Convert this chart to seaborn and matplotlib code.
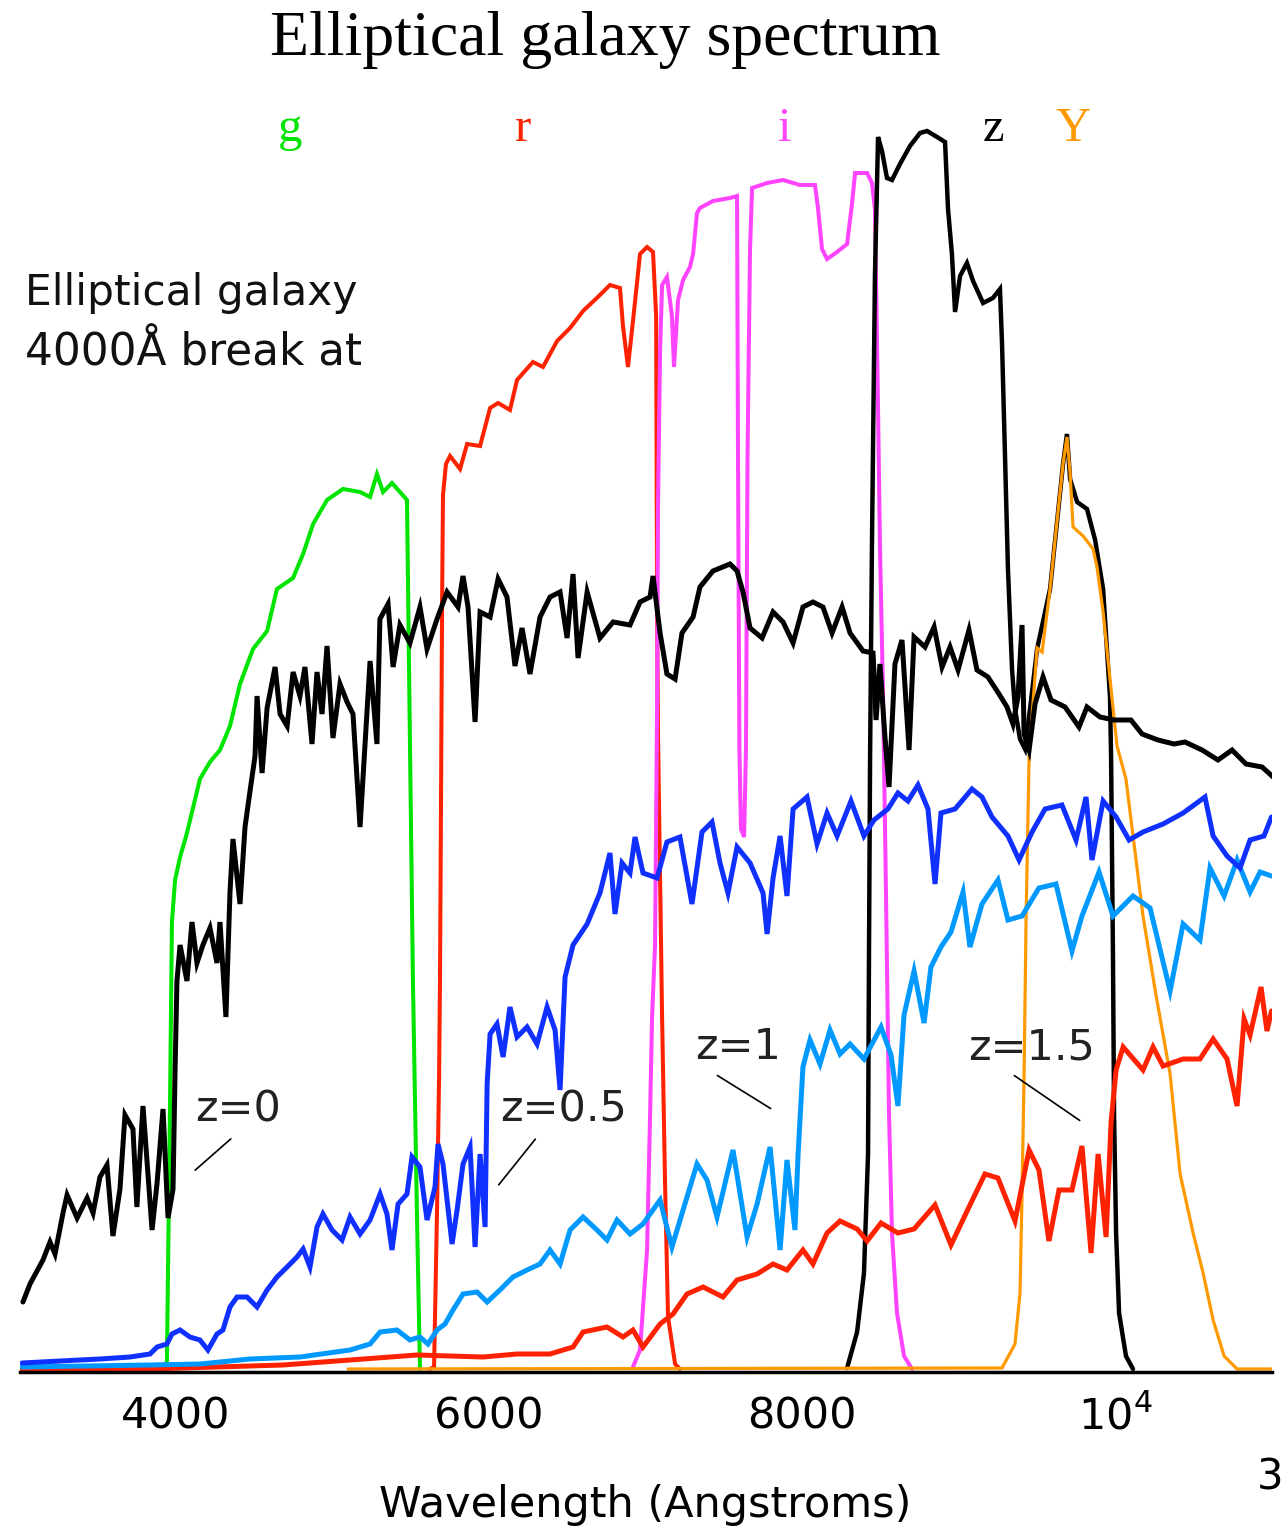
import matplotlib
matplotlib.use("Agg")
import matplotlib.pyplot as plt
import seaborn as sns

# ---------------- data (wavelength in Angstrom, relative flux / throughput) ----------------
spec_z0 = [(3022,6.7),(3067,8.5),(3150,10.9),(3195,12.7),(3227,11.5),(3278,15.6),(3304,17.4),(3368,15.1),
           (3432,17.1),(3470,15.6),(3514,19.2),(3559,20.4),(3597,13.3),(3642,18.0),(3674,25.4),(3725,24.0),
           (3750,16.2),(3789,26.3),(3847,13.9),(3879,18.6),(3917,26.0),(3949,15.1),(3981,18.0),(3994,29.9),
           (4006,38.8),(4026,42.4),(4070,38.8),(4102,44.7),(4134,40.6),(4172,42.4),(4217,44.1),(4262,40.6),
           (4281,44.7),(4319,35.2),(4345,47.7),(4364,53.0),(4409,46.5),(4441,54.2),(4473,57.8),(4505,61.3),
           (4518,67.3),(4550,59.6),(4582,66.1),(4633,70.2),(4665,65.5),(4710,64.3),(4748,69.7),(4792,67.3),
           (4824,70.2),(4869,62.5),(4901,69.7),(4933,65.5),(4965,72.3),(5003,63.1),(5048,68.5),(5093,66.7),
           (5131,65.5),(5176,54.2),(5208,62.5),(5240,70.8),(5284,62.5),(5303,75.0),(5355,76.5),(5387,70.2),
           (5431,74.4),(5495,72.6),(5559,76.2),(5604,72.0),(5668,75.0),(5732,77.7),(5802,76.2),(5834,79.3),
           (5866,76.2),(5911,64.7),(5943,75.7),(6007,75.2),(6058,79.0),(6115,77.2),(6166,70.3),(6211,74.1),
           (6262,69.5),(6326,75.2),(6390,77.2),(6454,77.7),(6499,73.1),(6537,79.5),(6569,71.1),(6627,77.7),
           (6709,73.1),(6793,74.7),(6901,74.4),(6965,76.7),(7029,77.2),(7048,79.3),(7093,73.6),(7137,69.5),
           (7189,69.0),(7233,73.6),(7304,75.2),(7348,78.2),(7431,79.8),(7540,80.5),(7585,79.8),(7623,77.7),
           (7668,74.1),(7745,73.1),(7815,75.7),(7879,74.7),(7943,72.6),(8006,76.2),(8070,76.7),(8134,76.2),
           (8192,73.6),(8256,76.2),(8307,73.6),(8390,71.8),(8454,71.6),(8473,64.9),(8498,70.5),(8530,63.2),
           (8556,58.2),(8594,70.5),(8639,72.9),(8684,61.9),(8716,73.2),(8786,72.2),(8844,74.2),(8895,70.2),
           (8946,72.2),(8997,69.9),(9067,73.9),(9118,69.9),(9188,69.2),(9259,67.5),(9310,66.2),(9348,64.5),
           (9380,67.2),(9406,74.4),(9419,63.5),(9451,61.9),(9489,66.5),(9540,69.2),(9591,66.9),(9681,66.2),
           (9770,64.2),(9821,66.2),(9904,65.2),(9994,64.9),(10102,64.9),(10173,63.5),(10275,62.9),(10377,62.5),
           (10447,62.7),(10556,61.9),(10658,60.9),(10748,61.9),(10837,60.5),(10940,60.2),(11010,59.2)]

spec_z05 = [(3016,0.6),(3259,0.8),(3514,1.0),(3706,1.2),(3834,1.5),(3879,2.2),(3942,2.5),(3974,3.5),
            (4026,3.9),(4089,3.2),(4153,2.9),(4204,1.9),(4262,3.5),(4300,3.9),(4345,6.2),(4390,7.2),
            (4454,7.2),(4518,6.2),(4582,7.9),(4645,9.2),(4710,10.2),(4773,11.2),(4812,12.0),(4856,10.2),
            (4901,14.2),(4939,15.5),(4997,13.9),(5061,12.9),(5112,15.2),(5176,13.5),(5240,14.9),(5304,17.5),
            (5348,15.5),(5380,11.9),(5419,16.5),(5476,17.5),(5508,21.2),(5559,20.2),(5604,14.9),(5655,18.2),
            (5674,22.5),(5706,20.5),(5764,12.5),(5796,15.9),(5834,20.5),(5879,22.2),(5911,12.2),(5943,21.5),
            (5975,14.2),(5988,28.5),(6007,33.5),(6051,34.5),(6090,31.2),(6134,36.2),(6179,33.2),(6243,34.2),
            (6307,32.5),(6371,36.2),(6422,33.9),(6454,27.9),(6486,39.2),(6537,42.4),(6627,44.5),(6709,47.6),
            (6773,51.6),(6805,45.5),(6850,50.6),(6901,49.6),(6933,53.2),(6984,49.6),(7074,49.1),(7137,52.7),
            (7220,53.2),(7297,46.5),(7361,53.7),(7425,54.7),(7476,50.6),(7527,47.6),(7585,52.2),(7668,50.6),
            (7751,47.6),(7777,43.5),(7815,49.1),(7860,53.3),(7904,47.3),(7943,56.0),(8032,57.2),(8096,52.5),
            (8160,55.6),(8224,53.3),(8313,56.8),(8396,53.3),(8460,54.9),(8549,56.0),(8613,57.6),(8677,56.8),
            (8741,58.4),(8805,56.0),(8850,48.5),(8888,55.6),(8978,56.0),(9086,58.0),(9150,57.2),(9214,55.2),
            (9316,53.3),(9387,50.9),(9470,53.7),(9553,56.0),(9661,56.4),(9751,52.9),(9815,57.2),(9853,50.9),
            (9924,56.8),(10007,55.2),(10090,52.9),(10179,53.7),(10307,54.5),(10435,55.6),(10575,57.2),
            (10627,53.3),(10716,51.3),(10799,50.1),(10863,52.9),(10952,53.3),(11000,55.2)]

spec_z1 = [(3016,0.2),(3834,0.4),(4153,0.5),(4473,1.0),(4792,1.2),(5112,1.9),(5240,2.5),(5304,3.7),
           (5412,3.9),(5495,2.9),(5559,3.2),(5610,2.5),(5668,3.9),(5719,4.5),(5770,5.9),(5834,7.5),
           (5924,7.7),(5988,6.7),(6070,7.9),(6153,9.2),(6243,9.9),(6326,10.5),(6390,11.9),(6454,10.5),
           (6518,13.9),(6601,15.2),(6690,13.9),(6754,12.9),(6818,14.9),(6901,13.5),(6984,14.5),(7093,16.9),
           (7169,12.2),(7240,15.9),(7329,20.5),(7393,18.9),(7457,15.2),(7559,21.9),(7649,13.2),(7713,16.5),
           (7796,22.2),(7860,11.9),(7904,20.9),(7955,13.9),(7975,21.5),(8006,30.2),(8051,32.9),(8115,30.5),
           (8179,33.9),(8243,31.5),(8307,32.5),(8396,31.0),(8505,34.2),(8569,31.4),(8613,26.3),(8652,35.4),
           (8716,39.8),(8780,34.6),(8824,40.2),(8888,42.2),(8952,43.7),(9029,47.7),(9073,42.2),(9150,46.5),
           (9252,48.9),(9316,44.9),(9406,45.3),(9514,48.1),(9623,48.5),(9725,41.8),(9789,45.3),(9898,49.7),
           (9987,45.3),(10115,47.3),(10224,46.1),(10352,37.8),(10435,44.5),(10543,42.9),(10607,50.1),
           (10697,47.3),(10780,50.9),(10863,47.7),(10927,49.7),(11000,49.3)]

spec_z15 = [(3016,0.0),(3834,0.0),(4684,0.4),(5112,0.9),(5540,1.4),(5962,1.2),(6179,1.5),(6390,1.5),
            (6537,2.2),(6601,3.7),(6754,4.2),(6856,3.2),(6920,3.9),(6984,2.2),(7093,4.5),(7176,5.5),
            (7265,7.5),(7368,8.2),(7495,7.2),(7585,8.9),(7713,9.5),(7815,10.5),(7904,9.9),(8006,11.9),
            (8070,10.5),(8160,13.6),(8243,14.8),(8352,14.0),(8416,12.8),(8505,14.6),(8613,13.6),(8716,14.0),
            (8850,16.4),(8952,12.4),(9061,16.0),(9169,19.5),(9252,19.1),(9361,14.8),(9451,21.9),(9514,19.9),
            (9578,12.8),(9642,17.9),(9725,17.9),(9789,22.3),(9847,11.6),(9892,21.5),(9943,13.2),(9975,24.7),
            (10007,29.9),(10052,32.2),(10179,29.9),(10243,32.2),(10307,30.3),(10435,31.0),(10543,31.0),
            (10627,33.0),(10716,31.0),(10780,26.3),(10825,35.0),(10863,33.4),(10933,38.2),(10971,33.8),
            (11000,35.8)]

filt_g = [(3000,0),(3930,0),(3942,0.8),(3962,26.9),(3974,44.7),(3994,48.9),(4026,51.2),(4070,53.6),
          (4153,59.0),(4217,60.7),(4281,61.9),(4345,64.3),(4409,68.5),(4492,72.0),(4582,73.8),(4645,78.0),
          (4748,79.1),(4812,81.5),(4876,84.5),(4965,86.9),(5067,88.0),(5176,87.7),(5240,87.2),(5284,89.5),
          (5323,87.7),(5380,88.6),(5431,87.7),(5476,86.9),(5495,62.5),(5514,38.8),(5540,15.1),(5559,0)]

filt_r = [(5623,0),(5649,0.2),(5668,15.9),(5681,29.2),(5687,39.2),(5693,55.7),(5700,76.2),(5706,87.4),
          (5725,90.5),(5751,91.3),(5815,90.0),(5860,92.5),(5943,92.3),(6007,96.1),(6058,96.6),(6134,95.9),
          (6179,98.9),(6281,100.7),(6345,100.2),(6435,102.8),(6518,104.1),(6601,105.8),(6709,107.4),
          (6773,108.4),(6837,108.1),(6856,104.3),(6888,100.2),(6920,104.8),(6965,111.5),(7010,112.2),
          (7048,111.7),(7068,105.3),(7074,76.2),(7080,63.4),(7106,35.2),(7125,18.5),(7144,5.2),(7189,0.5),
          (7220,0)]

filt_i = [(6920,0.2),(6965,1.9),(7010,11.9),(7029,25.2),(7042,35.2),(7061,42.4),(7074,66.0),(7080,86.4),
          (7093,101.8),(7106,108.4),(7137,109.2),(7169,105.3),(7182,100.2),(7208,106.9),(7240,108.9),
          (7284,110.2),(7304,111.5),(7329,115.6),(7348,116.1),(7431,116.8),(7540,117.1),(7585,117.3),
          (7591,91.5),(7600,62.0),(7610,54.0),(7630,53.2),(7642,62.0),(7652,91.5),(7668,112.0),(7681,118.1),
          (7777,118.6),(7879,118.9),(7987,118.4),(8083,118.4),(8102,116.1),(8128,112.0),(8160,111.0),
          (8224,111.7),(8288,112.5),(8320,116.6),(8339,119.6),(8416,119.6),(8447,118.6),(8466,116.0),
          (8486,95.9),(8498,82.4),(8518,67.2),(8537,47.2),(8556,25.5),(8575,13.6),(8607,5.6),(8652,1.3),
          (8703,0)]

filt_z = [(8288,0.1),(8352,3.7),(8396,9.6),(8422,21.5),(8428,41.4),(8435,61.2),(8447,82.4),(8466,109.3),
          (8486,123.2),(8511,121.8),(8543,119.1),(8575,118.9),(8626,120.5),(8690,122.3),(8754,123.6),
          (8799,123.8),(8863,123.2),(8914,122.7),(8933,116.0),(8958,111.5),(8978,105.7),(9010,109.3),
          (9054,110.6),(9093,108.8),(9157,106.6),(9220,107.1),(9265,108.0),(9278,102.6),(9297,91.4),
          (9316,80.0),(9342,70.0),(9361,66.0),(9393,63.0),(9425,62.0),(9457,66.0),(9502,72.0),(9585,78.0),
          (9668,90.5),(9693,93.5),(9713,89.0),(9758,86.7),(9821,86.0),(9873,82.9),(9924,78.0),(9968,67.2),
          (9975,61.2),(9987,41.4),(9994,25.5),(10007,13.6),(10026,5.6),(10070,1.3),(10115,0)]

filt_Y = [(5100,0),(9278,0.1),(9361,2.5),(9393,7.6),(9406,17.5),(9419,29.5),(9432,45.3),(9451,61.2),
          (9502,72.1),(9534,71.7),(9585,78.0),(9629,84.7),(9668,90.5),(9693,93.2),(9713,89.6),(9732,84.2),
          (9796,83.3),(9860,82.0),(9885,80.2),(9924,75.7),(9968,69.0),(10013,62.3),(10070,59.0),
          (10179,45.3),(10262,37.4),(10352,29.5),(10416,19.5),(10499,13.6),(10563,9.6),(10627,4.9),
          (10697,1.3),(10780,0),(11000,0)]

band_names = ["g", "r", "i", "z", "Y"]
band_label_wl = [4728, 6217, 7892, 9221, 9732]
z_labels = ["z=0", "z=0.5", "z=1", "z=1.5"]
tick_values = [4000, 6000, 8000, 10000]
tick_labels = ["4000", "6000", "8000", "10$^4$"]
minor_ticks = [5000, 7000, 9000, 11000]

# ---------------- styling ----------------
GREEN = "#00E400"
RED = "#FF2200"
MAGENTA = "#FF44FF"
ORANGE = "#FF9900"
BLUE = "#1030FF"
LBLUE = "#0099FF"
band_colors = [GREEN, RED, MAGENTA, "black", ORANGE]

sns.set_style("white")
plt.rcParams["font.family"] = ["DejaVu Sans"]
plt.rcParams["mathtext.default"] = "regular"
plt.rcParams["text.color"] = "black"
plt.rcParams["axes.labelcolor"] = "black"
plt.rcParams["xtick.color"] = "black"

fig = plt.figure(figsize=(12.84, 15.30), dpi=100)
ax = fig.add_axes([19.5 / 1284, (1530 - 1372) / 1530, 1252 / 1284, 1272 / 1530])


def draw(pairs, color, lw):
    xs = [p[0] for p in pairs]
    ys = [p[1] for p in pairs]
    sns.lineplot(x=xs, y=ys, color=color, linewidth=lw, ax=ax,
                 estimator=None, sort=False, solid_joinstyle="miter")


# filter curves
draw(filt_g, GREEN, 2.9)
draw(filt_r, RED, 2.9)
draw(filt_i, MAGENTA, 2.9)
draw(filt_z, "black", 3.2)
draw(filt_Y, ORANGE, 2.3)

# spectra
draw(spec_z15, RED, 3.6)
draw(spec_z1, LBLUE, 3.6)
draw(spec_z05, BLUE, 3.6)
draw(spec_z0, "black", 3.6)

ax.set_xlim(3000, 11000)
ax.set_ylim(-0.3, 126.9)

for s in ["top", "left", "right"]:
    ax.spines[s].set_visible(False)
ax.spines["bottom"].set_linewidth(2.5)
ax.spines["bottom"].set_color("black")

ax.set_yticks([])
ax.set_xticks(tick_values)
ax.set_xticklabels(tick_labels)
ax.set_xticks(minor_ticks, minor=True)
ax.tick_params(axis="x", which="major", direction="in", length=7, width=1.6,
               labelsize=31, pad=17, color="black", labelcolor="black")
ax.tick_params(axis="x", which="minor", direction="in", length=6, width=1.6, color="black")
ax.set_xlabel("Wavelength (Angstroms)", fontsize=31, color="black")
ax.xaxis.set_label_coords(0.5, -0.1046)
ax.xaxis.label.set_va("center")

# band labels
for name, wl, c in zip(band_names, band_label_wl, band_colors):
    ax.text(wl, 122.8, name, color=c, fontsize=35, family="Liberation Serif",
            ha="center", va="baseline")

# redshift labels with leader lines
z_text_pos = [(4121, 26.0), (6070, 26.0), (7317, 32.2), (9061, 32.2)]
z_line_from = [(4364, 23.2), (6307, 23.2), (7444, 29.5), (9342, 29.5)]
z_line_to = [(4109, 19.7), (6051, 18.2), (7815, 25.9), (9789, 24.7)]
for lab, tp, lf, lt in zip(z_labels, z_text_pos, z_line_from, z_line_to):
    ax.text(tp[0], tp[1], lab, fontsize=31, ha="left", va="center", color="#222222")
    ax.annotate("", xy=lt, xytext=lf,
                arrowprops=dict(arrowstyle="-", color="black", lw=1.2))

# left annotation
fig.text(25 / 1284, 1 - 305 / 1530, "Elliptical galaxy", fontsize=30.5,
         ha="left", va="baseline", color="#111111")
fig.text(25 / 1284, 1 - 366 / 1530, "4000Å break at", fontsize=31.5,
         ha="left", va="baseline", color="#111111")

# title
fig.text(605 / 1284, 1 - 40 / 1530, "Elliptical galaxy spectrum", fontsize=46,
         family="Liberation Serif", ha="center", va="center", color="black")

# page number
fig.text(1257 / 1284, 1 - 1478 / 1530, "3", fontsize=30, ha="left", va="center", color="black")

fig.savefig("out.png", dpi=100)
